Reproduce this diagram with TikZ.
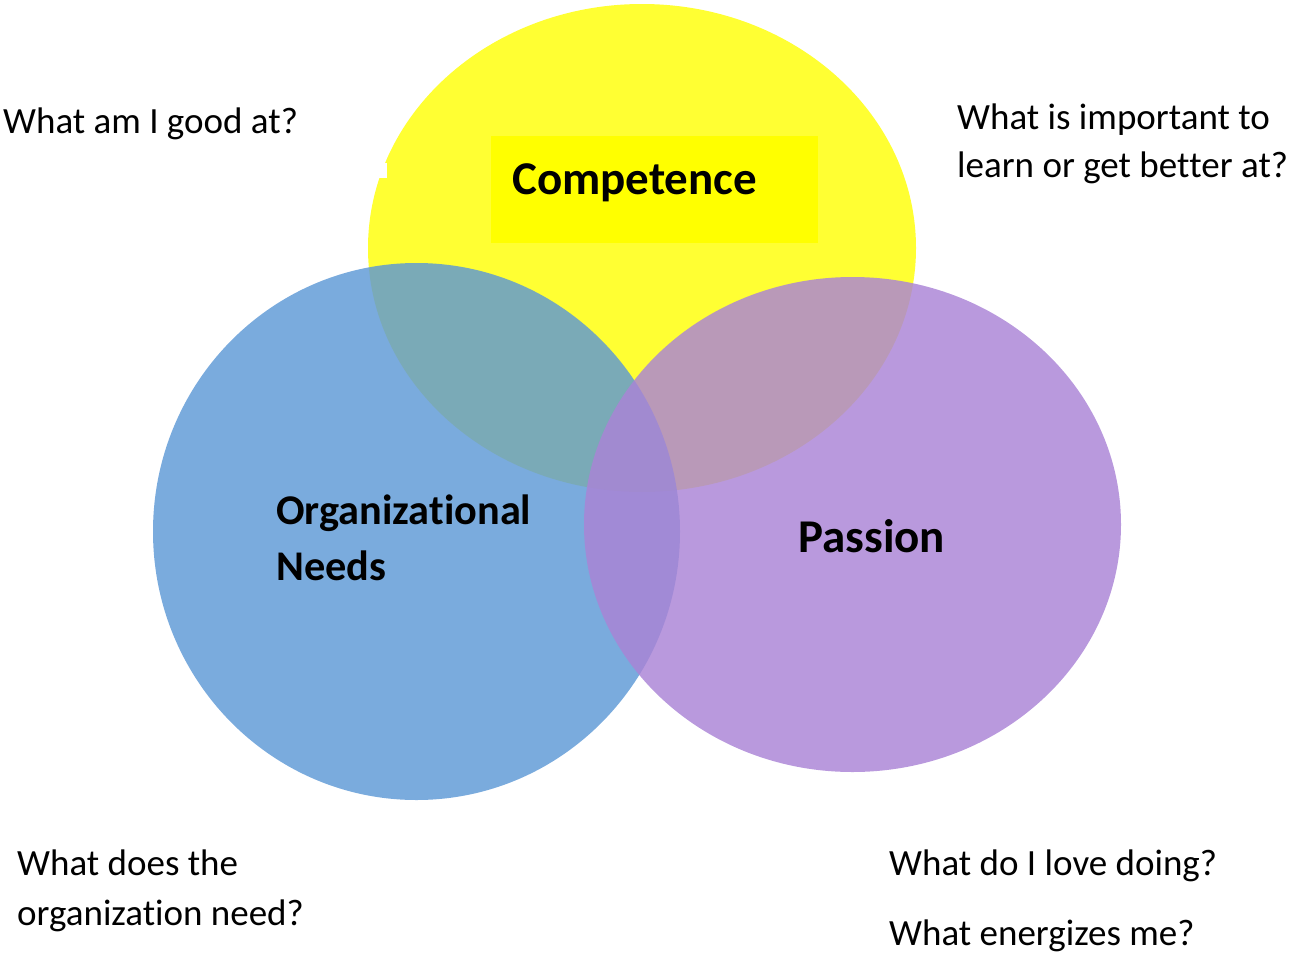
\documentclass[tikz,border=0pt]{standalone}
\usepackage{fontspec}
\setmainfont{Carlito}
% zero kern to keep letter pairs apart (no joined glyphs)
\newcommand{\nolig}{\kern0pt{}}
\definecolor{compyellow}{RGB}{255,255,51}
\definecolor{boxyellow}{RGB}{255,255,0}
\definecolor{needblue}{RGB}{93,152,213}
\definecolor{passpurple}{RGB}{170,131,214}
\tikzset{
  question/.style={anchor=base west, inner sep=0pt, font=\fontsize{37}{45}\selectfont},
  label/.style={anchor=base west, inner sep=0pt, font=\fontsize{47}{56}\selectfont\bfseries},
  small label/.style={label, font=\fontsize{42.3}{50}\selectfont\bfseries},
  circle fill/.style={fill opacity=0.82}
}
\begin{document}
\begin{tikzpicture}[x=1pt,y=-1pt]
\useasboundingbox (0,0) rectangle (1291,953);
% Competence circle
\fill[compyellow] (642,248) ellipse [x radius=274, y radius=244];
\fill[white] (366,163) rectangle (386.5,178);
\fill[boxyellow] (491,136) rectangle (818,243);
% Organizational needs circle
\fill[needblue,circle fill] (416.5,531.5) ellipse [x radius=263.5, y radius=268.5];
% Passion circle
\fill[passpurple,circle fill] (852.5,524.5) ellipse [x radius=268.5, y radius=247.5];
% circle labels
\node[label] (comp) at (512,194) {Competence};
\node[small label] (org1) at (276,524) {Organizat\nolig ional};
\node[small label] (org2) at (276,580) {Needs};
\node[label] (pass) at (798,552) {Passion};
% guiding questions
\node[question] (q1) at (3,133) {What am I good at?};
\node[question] (q2a) at (957,129) {What is important to};
\node[question] (q2b) at (957,177) {learn or get bet\nolig ter at?};
\node[question] (q3a) at (17,875) {What does the};
\node[question] (q3b) at (17,925) {organizat\nolig ion need?};
\node[question] (q4a) at (889,875) {What do I love doing?};
\node[question] (q4b) at (889,945) {What energizes me?};
\end{tikzpicture}
\end{document}
